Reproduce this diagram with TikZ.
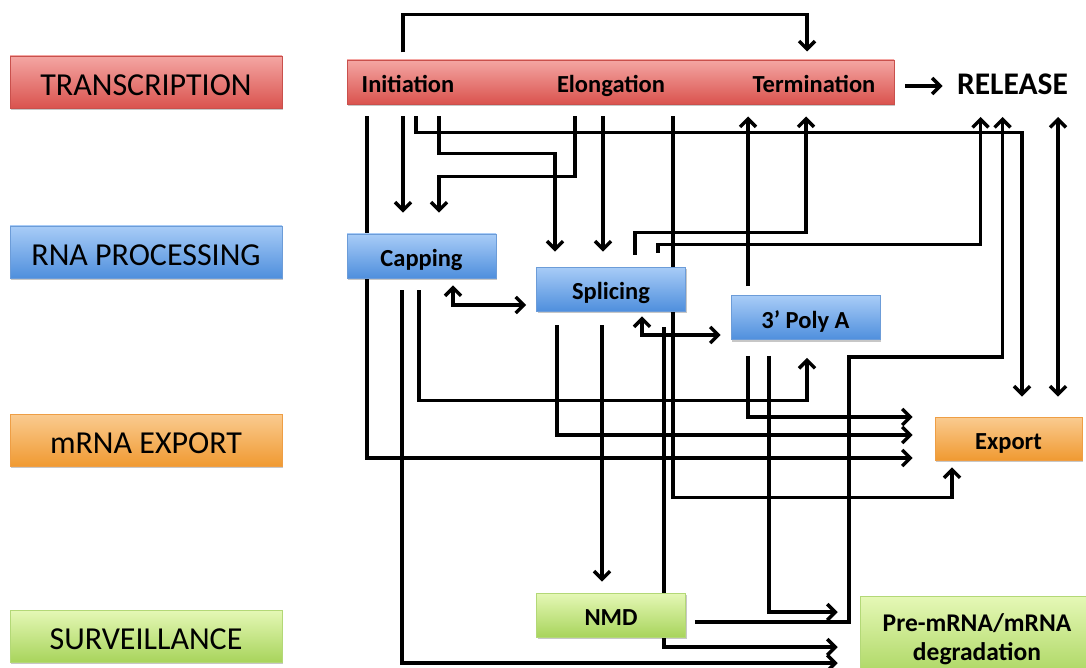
\documentclass[tikz,border=0pt]{standalone}
\usepackage{fontspec}
\setmainfont{Carlito}
\usetikzlibrary{arrows.meta,calc,shadows}

\pgfdeclarelayer{wires}
\pgfsetlayers{wires,main}

\definecolor{redtop}{HTML}{F4A6A3}
\definecolor{redbot}{HTML}{DA534E}
\definecolor{redline}{HTML}{C9504C}
\definecolor{bluetop}{HTML}{A8CCF7}
\definecolor{bluebot}{HTML}{4F8FDD}
\definecolor{blueline}{HTML}{6C9CD8}
\definecolor{orgtop}{HTML}{FACB90}
\definecolor{orgbot}{HTML}{F09A32}
\definecolor{orgline}{HTML}{EE9E45}
\definecolor{grntop}{HTML}{E5F8B6}
\definecolor{grnbot}{HTML}{A8D45C}
\definecolor{grnline}{HTML}{B3D877}

\tikzset{
  box/.style={inner sep=0pt, line width=0.6pt,
    drop shadow={shadow xshift=1pt, shadow yshift=-2pt, opacity=0.22, fill=black}},
  redbox/.style={box, draw=redline, top color=redtop, bottom color=redbot},
  bluebox/.style={box, draw=blueline, top color=bluetop, bottom color=bluebot},
  orgbox/.style={box, draw=orgline, top color=orgtop, bottom color=orgbot},
  grnbox/.style={box, draw=grnline, top color=grntop, bottom color=grnbot},
  stage/.style={font=\fontsize{32}{38}\selectfont, minimum width=272pt, minimum height=52pt,
    text height=26.6pt, text depth=0pt},
  stepbox/.style={font=\bfseries\fontsize{24.5}{29}\selectfont, minimum width=149pt, minimum height=44pt,
    text height=21.5pt, text depth=0pt},
  steptext/.style={font=\bfseries\fontsize{24.5}{29}\selectfont, anchor=base, inner sep=0pt},
  wire/.style={line width=3.5pt, ->},
  >={Straight Barb[length=8pt,width=16pt]},
}

\begin{document}
\begin{tikzpicture}[x=1pt,y=-1pt]
\clip (0,0) rectangle (1086,668);
\useasboundingbox (0,0) rectangle (1086,668);

% stage labels on the left
\node[stage, redbox]  (lt) at (146,82)  {TRANSCRIPTION};
\node[stage, bluebox] (lr) at (146,252) {RNA PROCESSING};
\node[stage, orgbox]  (le) at (146,440) {mRNA EXPORT};
\node[stage, grnbox]  (ls) at (146,636) {SURVEILLANCE};

% transcription bar and its three phases
\node[redbox, minimum width=547pt, minimum height=44pt] (trans) at (620.5,82) {};
\node[steptext] (init)  at (408,92.5) {Initiation};
\node[steptext] (elong) at (611,92.5) {Elongation};
\node[steptext] (term)  at (814,92.5) {Termination};
\node[anchor=base, inner sep=0pt, font=\bfseries\fontsize{31.5}{36}\selectfont] (rel) at (1012.5,95) {RELEASE};

% processing, export and surveillance steps
\node[stepbox, bluebox] (cap)  at (421.5,256)  {Capping};
\node[stepbox, bluebox] (spl)  at (611,289)    {Splicing};
\node[stepbox, bluebox] (poly) at (805.5,317.5) {3’ Poly A};
\node[stepbox, orgbox, minimum width=147pt, minimum height=43pt] (exp) at (1008.5,438.5) {Export};
\node[stepbox, grnbox] (nmd) at (611,615) {NMD};
\node[grnbox, minimum width=234pt, minimum height=85pt, align=center,
      font=\bfseries\fontsize{25.5}{29}\selectfont] (deg) at (977,639) {Pre-mRNA/mRNA\\degradation};

\begin{pgfonlayer}{wires}
% termination leads to release
\draw[wire] ($(trans.east)+(11,4)$) -- ($(rel.base)+(-70,-9)$);

% from initiation
\draw[wire] ($(init.base)+(-5,-40)$) -- ++(0,-38) -| ($(term.base)+(-7,-41)$);
\draw[wire] ($(init.base)+(-41,24)$) |- ($(exp.west)+(-22,19.5)$);
\draw[wire] ($(init.base)+(-5,24)$) -- ($(cap.north)+(-18.5,-21)$);
\draw[wire] ($(init.base)+(8,24)$) -- ++(0,16) -| ($(exp.north)+(13.5,-20)$);
\draw[wire] ($(init.base)+(31,24)$) -- ++(0,37) -| ($(spl.north)+(-56,-15)$);

% from elongation
\draw[wire] ($(elong.base)+(-36,24)$) -- ++(0,60) -| ($(cap.north)+(17.5,-21)$);
\draw[wire] ($(elong.base)+(-8,24)$) -- ($(spl.north)+(-8,-15)$);
\draw[wire] ($(elong.base)+(62,24)$) -- ++(0,381) -| ($(exp.south)+(-56.5,7)$);

% towards termination and release
\draw[wire] ($(poly.north)+(-57.5,-9)$) -- ($(term.base)+(-66,24)$);
\draw[wire] ($(spl.north)+(24,-12)$) -- ++(0,-22) -| ($(term.base)+(-8,24)$);
\draw[wire] ($(spl.north)+(47,-14)$) -- ++(0,-8) -| ($(rel.base)+(-32,22)$);
\draw[wire] ($(nmd.east)+(9,7)$) -- ++(154,0) -- ++(0,-265) -| ($(rel.base)+(-10,22)$);
\draw[wire, <->] ($(rel.base)+(45.5,22)$) -- ($(exp.north)+(49.5,-20)$);

% from 3' poly A
\draw[wire] ($(poly.south)+(-57.5,16)$) |- ($(exp.west)+(-22,-21.5)$);
\draw[wire] ($(poly.south)+(-36.5,16)$) |- ($(deg.north west)+(-22,16)$);

% from capping
\draw[wire] ($(cap.south)+(-2.5,12)$) -- ++(0,110) -| ($(poly.south)+(1.5,18)$);
\draw[wire] ($(cap.south)+(-19.5,12)$) |- ($(deg.north west)+(-22,67)$);
\draw[wire, <->] ($(cap.south)+(31.5,7)$) |- ($(spl.west)+(-10,16)$);

% from splicing
\draw[wire, <->] ($(spl.south)+(31,5)$) |- ($(poly.west)+(-10,17.5)$);
\draw[wire] ($(spl.south)+(-54,14)$) |- ($(exp.west)+(-22,-3.5)$);
\draw[wire] ($(spl.south)+(-9,14)$) -- ($(nmd.north)+(-9,-11)$);
\draw[wire] ($(spl.south)+(53,16)$) |- ($(deg.north west)+(-22,51)$);
\end{pgfonlayer}
\end{tikzpicture}
\end{document}
